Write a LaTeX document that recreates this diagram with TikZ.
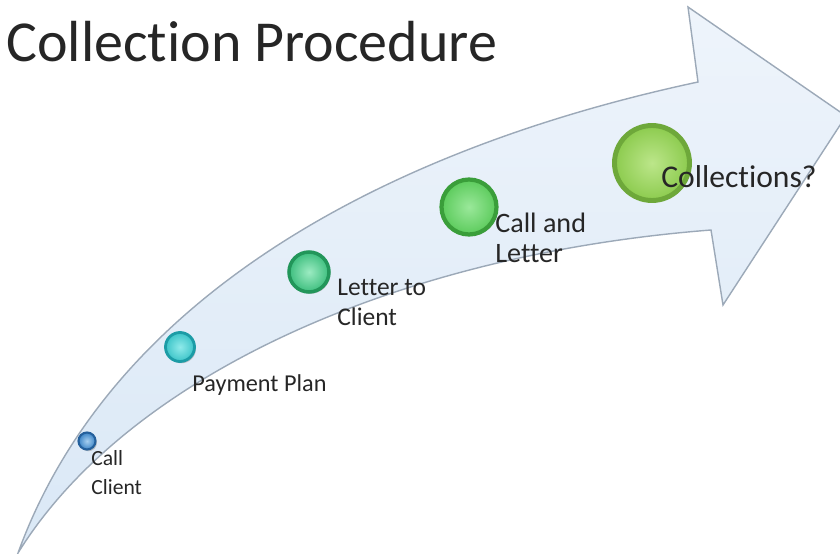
\documentclass[tikz,border=0pt]{standalone}
\usepackage{fontspec}
\setmainfont{Carlito}[Ligatures=NoCommon]
\usetikzlibrary{shadows}
\definecolor{arrowfill}{HTML}{DAE8F6}
\definecolor{arrowtop}{HTML}{EEF4FB}
\definecolor{arrowline}{HTML}{9CA9B8}
\definecolor{ringa}{HTML}{24609C}\definecolor{ina}{HTML}{A6CFF0}\definecolor{outa}{HTML}{3C84C6}
\definecolor{ringb}{HTML}{1C9CA6}\definecolor{inb}{HTML}{8FEAEA}\definecolor{outb}{HTML}{3CC4C8}
\definecolor{ringc}{HTML}{22965A}\definecolor{inc}{HTML}{9CEBC2}\definecolor{outc}{HTML}{3DBE7E}
\definecolor{ringd}{HTML}{3A9E3A}\definecolor{ind}{HTML}{9AE89A}\definecolor{outd}{HTML}{5CCB5C}
\definecolor{ringe}{HTML}{6EA83A}\definecolor{ine}{HTML}{BCE68A}\definecolor{oute}{HTML}{8CCB4E}
\tikzstyle{proc}=[x=0.02cm, y=-0.02cm, every node/.style={inner sep=0, text=black!85}]
\tikzstyle{btn}=[circle, drop shadow={shadow xshift=0.8pt, shadow yshift=-1pt, opacity=0.45}]
\tikzstyle{lbl}=[anchor=base west, align=left]

\begin{document}
\begin{tikzpicture}[proc]
\useasboundingbox (0,0) rectangle (840,554);
\node[anchor=base west, font=\fontsize{33}{40}\selectfont] (title) at (6,62) {Collection Procedure};
\draw[draw=arrowline, line width=0.8pt, top color=arrowtop, bottom color=arrowfill]
  (18,553) .. controls (110,300) and (380,150) .. (698,82) -- (688,7) -- (846,116)
  -- (723,305) -- (711,230) .. controls (390,255) and (125,380) .. (18,553) -- cycle;
\node[btn, draw=ringa, line width=1.2pt, inner color=ina, outer color=outa, minimum size=0.34cm] (b1) at (87,441) {};
\node[btn, draw=ringb, line width=1.6pt, inner color=inb, outer color=outb, minimum size=0.58cm] (b2) at (180,347) {};
\node[btn, draw=ringc, line width=2pt, inner color=inc, outer color=outc, minimum size=0.8cm] (b3) at (309,272) {};
\node[btn, draw=ringd, line width=2.4pt, inner color=ind, outer color=outd, minimum size=1.1cm] (b4) at (469,207) {};
\node[btn, draw=ringe, line width=2.8pt, inner color=ine, outer color=oute, minimum size=1.5cm] (b5) at (652,163) {};
\node[lbl, font=\fontsize{12.3}{17}\selectfont] (l1) at (91,495) {Call\\Client};
\node[lbl, font=\fontsize{13.8}{17}\selectfont] (l2) at (192,392) {Payment Plan};
\node[lbl, font=\fontsize{14.5}{17.5}\selectfont] (l3) at (337,326) {Letter to\\Client};
\node[lbl, font=\fontsize{16}{17.5}\selectfont] (l4) at (495,263) {Call and\\Letter};
\node[lbl, font=\fontsize{18}{20}\selectfont] (l5) at (661,188) {Collections?};
\end{tikzpicture}
\end{document}
